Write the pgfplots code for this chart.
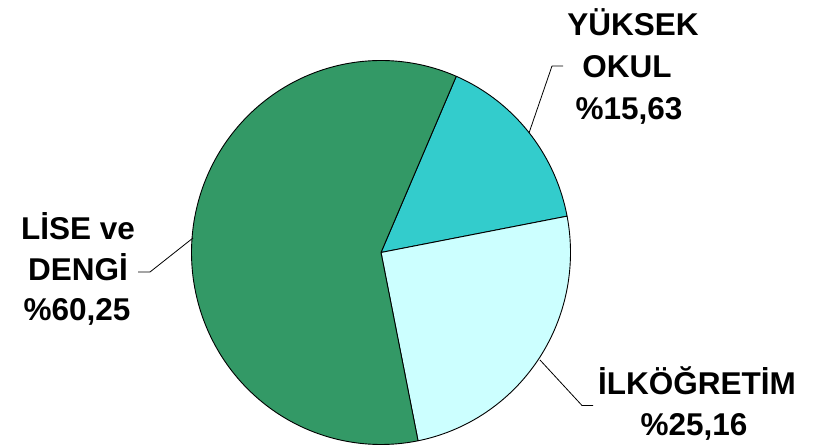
\documentclass[border=0pt]{standalone}
\usepackage{pgfplots}
\pgfplotsset{compat=1.18}
\usepackage{fontspec}
\setmainfont{Liberation Sans}
\definecolor{cLise}{RGB}{51,153,102}
\definecolor{cYuk}{RGB}{51,204,204}
\definecolor{cIlk}{RGB}{204,255,255}
\tikzset{lbl/.style={anchor=base, font=\fontsize{31.5}{36}\selectfont\bfseries, inner sep=0pt}}
% shares (percent) as shown in the chart
\def\pYuk{15.63}
\def\pIlk{25.16}
\def\pLise{60.25}
\pgfmathsetmacro{\tot}{\pYuk+\pIlk+\pLise}
\pgfmathsetmacro{\aA}{66.6}
\pgfmathsetmacro{\aB}{\aA-360*(\pYuk/\tot)}
\pgfmathsetmacro{\aC}{\aB-360*(\pIlk/\tot)}
\pgfmathsetmacro{\aD}{\aC-360*(\pLise/\tot)}
\def\cx{381}
\def\cy{193.5}
\def\rx{189.5}
\def\ry{192}
\begin{document}
\begin{tikzpicture}
\begin{axis}[
  width=816pt, height=446pt, scale only axis,
  xmin=0, xmax=816, ymin=0, ymax=446,
  hide axis, clip=false,
  every axis plot/.append style={line width=0.9pt, line join=round},
]
\addplot[draw=none, forget plot] coordinates {(0,0) (816,446)};
\addplot[fill=cYuk, draw=black, domain=\aB:\aA, samples=80, variable=\t]
  ({\cx+\rx*cos(t)},{\cy+\ry*sin(t)}) -- (axis cs:\cx,\cy) -- cycle;
\addplot[fill=cIlk, draw=black, domain=\aC:\aB, samples=120, variable=\t]
  ({\cx+\rx*cos(t)},{\cy+\ry*sin(t)}) -- (axis cs:\cx,\cy) -- cycle;
\addplot[fill=cLise, draw=black, domain=\aD:\aC, samples=240, variable=\t]
  ({\cx+\rx*cos(t)},{\cy+\ry*sin(t)}) -- (axis cs:\cx,\cy) -- cycle;
% leader lines
\addplot[black, line width=0.8pt] coordinates {(529,313) (552,380) (563,380)};
\addplot[black, line width=0.8pt] coordinates {(193,208) (150,174) (138,174)};
\addplot[black, line width=0.8pt] coordinates {(540,86) (582,40.5) (593,40.5)};
% labels
\node[lbl] at (axis cs:633,410) {YÜKSEK};
\node[lbl] at (axis cs:627,368) {OKUL};
\node[lbl] at (axis cs:629,326) {\%15,63};
\node[lbl] at (axis cs:78,206) {LİSE ve};
\node[lbl] at (axis cs:78,165) {DENGİ};
\node[lbl] at (axis cs:77,125) {\%60,25};
\node[lbl] at (axis cs:697,51) {İLKÖĞRETİM};
\node[lbl] at (axis cs:694,10.5) {\%25,16};
\end{axis}
\end{tikzpicture}
\end{document}
